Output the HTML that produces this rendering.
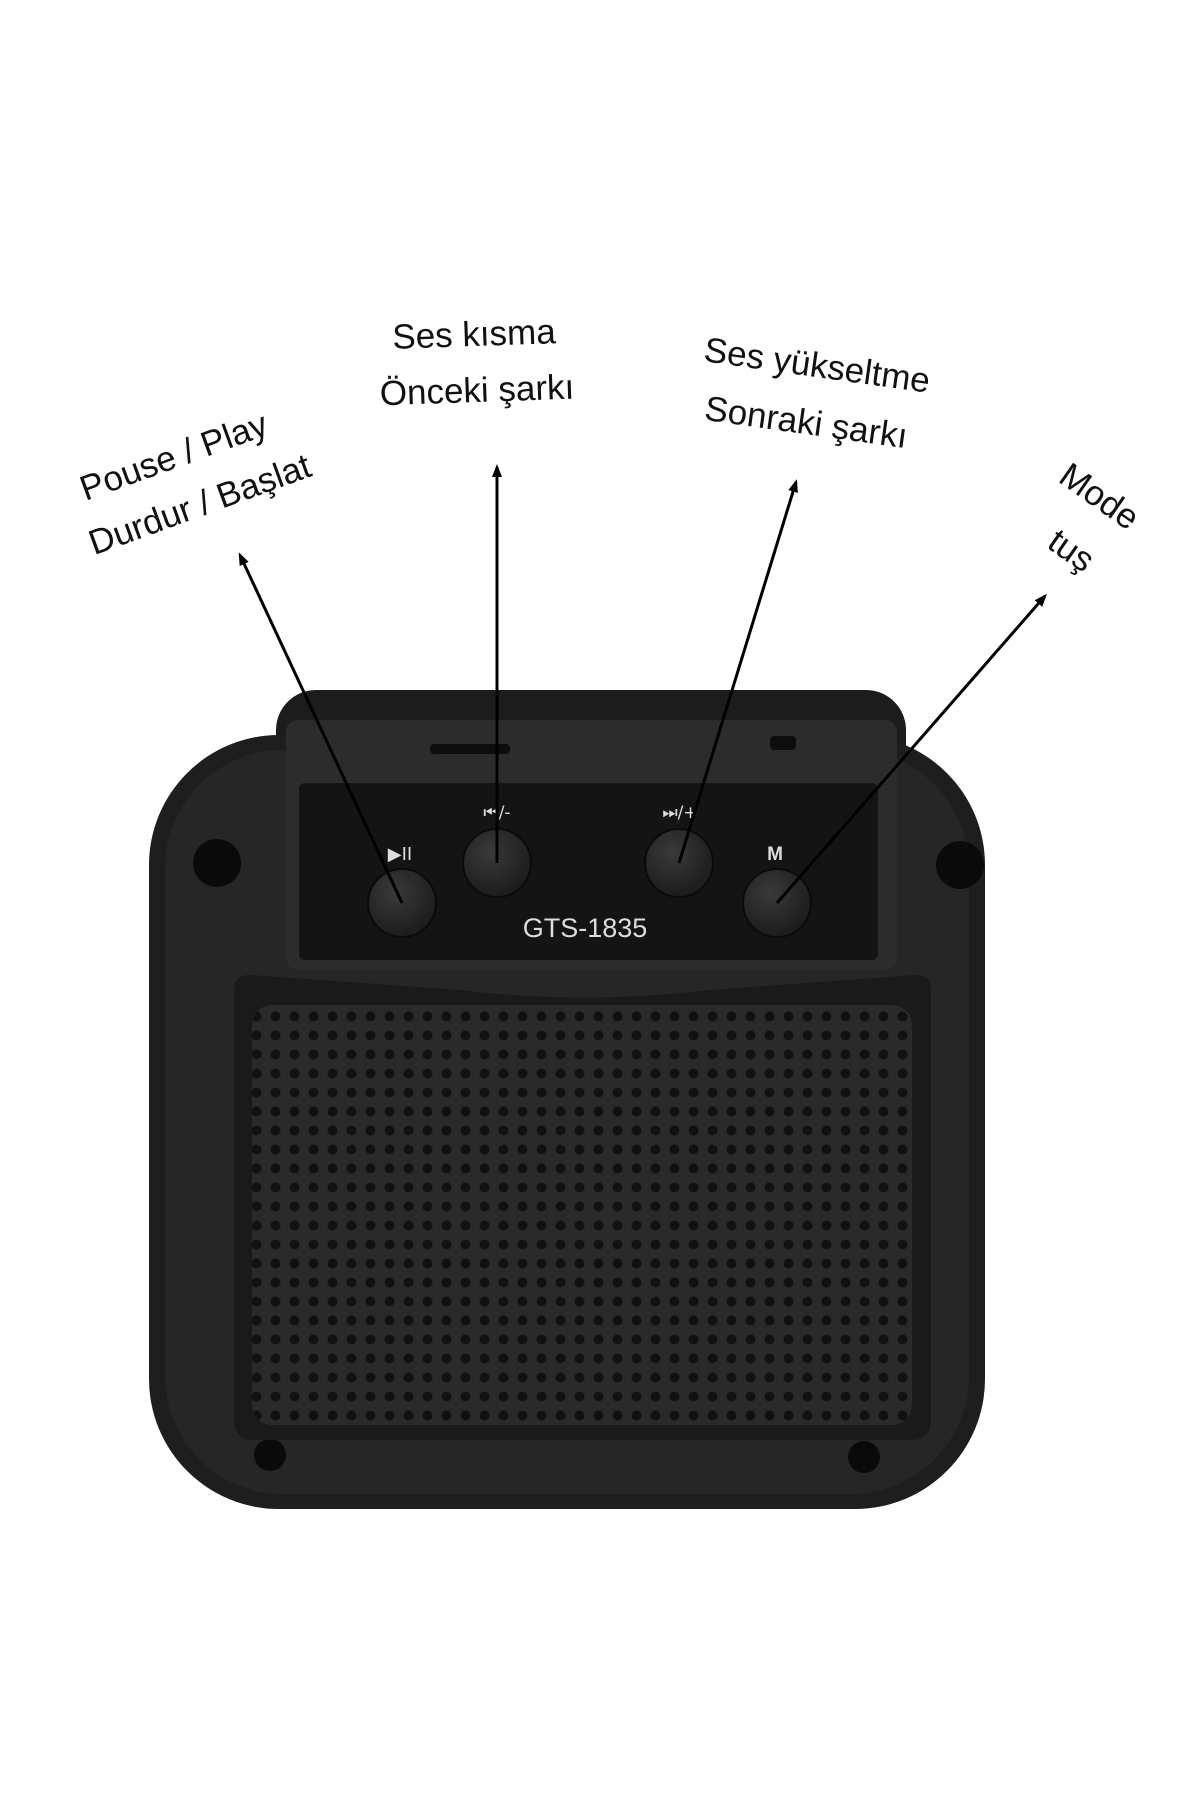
<!DOCTYPE html>
<html><head><meta charset="utf-8"><style>
body{margin:0;background:#fff;width:1200px;height:1800px;overflow:hidden;position:relative;font-family:"Liberation Sans",sans-serif}
.lbl{position:absolute;font-size:35px;color:#111;white-space:nowrap;transform-origin:center}
</style></head><body>
<svg width="1200" height="1800" style="position:absolute;left:0;top:0">
<defs>
<pattern id="dots" width="19" height="19" patternUnits="userSpaceOnUse">
<rect width="19" height="19" fill="#2a2a2a"/>
<circle cx="9.5" cy="9.5" r="5" fill="#111"/>
</pattern>
<radialGradient id="btn" cx="40%" cy="35%" r="70%"><stop offset="0" stop-color="#3a3a3a"/><stop offset="1" stop-color="#1a1a1a"/></radialGradient>
<marker id="ah" markerUnits="userSpaceOnUse" markerWidth="14" markerHeight="14" refX="10" refY="7" orient="auto"><path d="M0,2 L13,7 L0,12 z" fill="#000"/></marker>
</defs>
<rect x="276" y="690" width="630" height="120" rx="40" fill="#1c1c1c"/>
<rect x="149" y="735" width="836" height="774" rx="130" fill="#1e1e1e"/>
<rect x="165" y="750" width="804" height="744" rx="118" fill="#262626"/>
<circle cx="217" cy="863" r="24" fill="#0a0a0a"/>
<circle cx="960" cy="865" r="24" fill="#0a0a0a"/>
<circle cx="270" cy="1455" r="16" fill="#0a0a0a"/>
<circle cx="864" cy="1457" r="16" fill="#0a0a0a"/>
<rect x="286" y="720" width="611" height="250" rx="12" fill="#2c2c2c"/>
<rect x="299" y="783" width="579" height="177" rx="6" fill="#141414"/>
<rect x="430" y="744" width="80" height="10" rx="4" fill="#0d0d0d"/>
<rect x="770" y="736" width="26" height="14" rx="4" fill="#0d0d0d"/>
<path d="M234,990 Q234,975 250,975 L460,990 Q585,1005 710,990 L915,975 Q931,975 931,990 L931,1420 Q931,1440 911,1440 L254,1440 Q234,1440 234,1420 Z" fill="#1a1a1a"/>
<rect x="252" y="1005" width="660" height="420" rx="20" fill="url(#dots)"/>
<circle cx="402" cy="903" r="34" fill="url(#btn)" stroke="#0a0a0a" stroke-width="2"/>
<circle cx="497" cy="863" r="34" fill="url(#btn)" stroke="#0a0a0a" stroke-width="2"/>
<circle cx="679" cy="863" r="34" fill="url(#btn)" stroke="#0a0a0a" stroke-width="2"/>
<circle cx="777" cy="903" r="34" fill="url(#btn)" stroke="#0a0a0a" stroke-width="2"/>
<text x="400" y="860" fill="#ddd" font-size="18" text-anchor="middle" font-family="DejaVu Sans">▶II</text>
<text x="497" y="818" fill="#ddd" font-size="17" text-anchor="middle" font-family="DejaVu Sans">⏮/-</text>
<text x="680" y="818" fill="#ddd" font-size="17" text-anchor="middle" font-family="DejaVu Sans">⏭/+</text>
<text x="775" y="860" fill="#ddd" font-size="19" text-anchor="middle" font-weight="bold">M</text>
<text x="585" y="937" fill="#ddd" font-size="27" text-anchor="middle">GTS-1835</text>
<g stroke="#000" stroke-width="3" marker-end="url(#ah)">
<line x1="402" y1="903" x2="240" y2="555"/>
<line x1="497" y1="863" x2="497" y2="467"/>
<line x1="679" y1="863" x2="796" y2="482"/>
<line x1="777" y1="903" x2="1045" y2="596"/>
</g>
</svg>
<div class="lbl" style="left:174px;top:457px;transform:translate(-50%,-50%) rotate(-20deg)">Pouse / Play</div>
<div class="lbl" style="left:200px;top:505px;transform:translate(-50%,-50%) rotate(-20deg)">Durdur / Başlat</div>
<div class="lbl" style="left:474px;top:335px;transform:translate(-50%,-50%) rotate(-2deg)">Ses kısma</div>
<div class="lbl" style="left:477px;top:391px;transform:translate(-50%,-50%) rotate(-2deg)">Önceki şarkı</div>
<div class="lbl" style="left:817px;top:366px;transform:translate(-50%,-50%) rotate(8deg)">Ses yükseltme</div>
<div class="lbl" style="left:806px;top:423px;transform:translate(-50%,-50%) rotate(8deg)">Sonraki şarkı</div>
<div class="lbl" style="left:1099px;top:497px;transform:translate(-50%,-50%) rotate(35deg)">Mode</div>
<div class="lbl" style="left:1071px;top:551px;transform:translate(-50%,-50%) rotate(35deg)">tuş</div>
</body></html>
